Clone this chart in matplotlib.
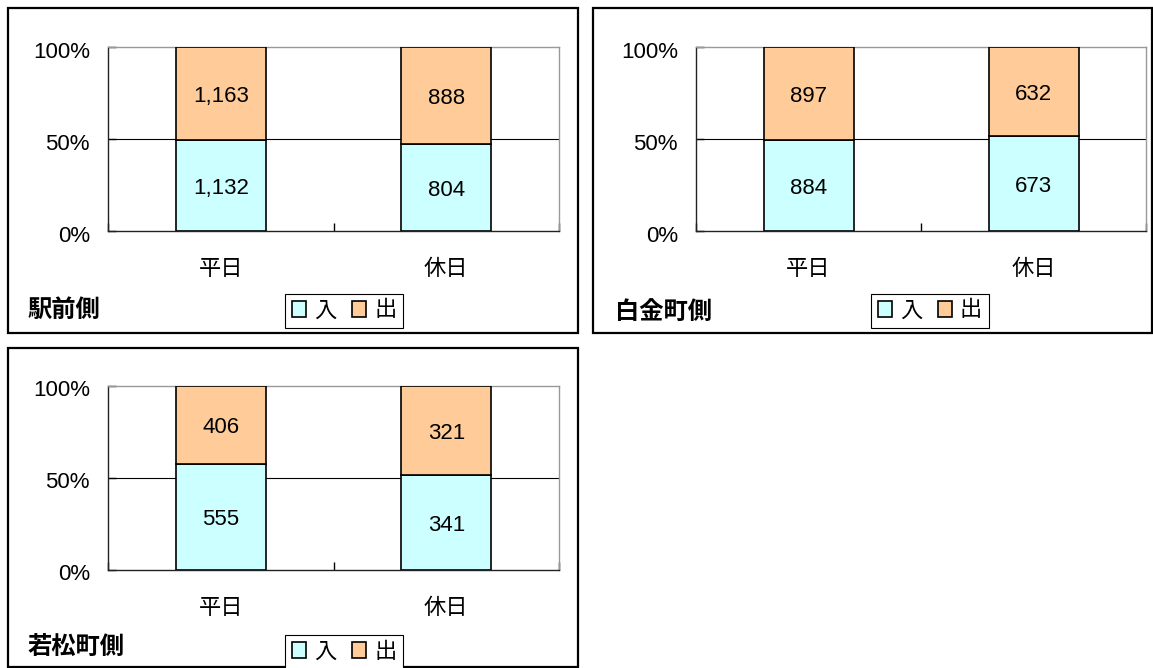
import numpy as np
import matplotlib.pyplot as plt
import matplotlib.transforms as mtransforms
from matplotlib.patches import Rectangle, Patch

plt.rcParams['font.family'] = ['Liberation Sans', 'Noto Sans CJK JP', 'DejaVu Sans']

# データ
categories = ['平日', '休日']
series_names = ['入', '出']
colors = ['#CCFFFF', '#FFCC99']

panel_titles = ['駅前側', '白金町側', '若松町側']
in_counts = [[1132, 804], [884, 673], [555, 341]]
out_counts = [[1163, 888], [897, 632], [406, 321]]

W, H = 1153, 668
fig = plt.figure(figsize=(W / 100, H / 100), dpi=100)

# pixel layout: panel box, plot area, title pos, legend center
layout = [
    dict(box=(8, 8, 578, 333), plot=(108, 47, 559, 231), title=(28, 310), legend=(344, 311)),
    dict(box=(593, 8, 1152, 333), plot=(696, 47, 1146, 231), title=(615, 312), legend=(930, 311)),
    dict(box=(8, 348, 578, 667), plot=(108, 386, 559, 570), title=(28, 648), legend=(344, 652)),
]


def fig_rect(x0, y0, x1, y1):
    return (x0 / W, 1 - y1 / H, (x1 - x0) / W, (y1 - y0) / H)


shift_down = mtransforms.ScaledTranslation(0, -2.5 / 100, fig.dpi_scale_trans)

for i in range(3):
    lay = layout[i]
    bx = fig_rect(*lay['box'])
    fig.patches.append(Rectangle((bx[0], bx[1]), bx[2], bx[3], transform=fig.transFigure,
                                 fill=False, edgecolor='black', linewidth=1.6, zorder=0))

    ax = fig.add_axes(fig_rect(*lay['plot']))
    inc = np.array(in_counts[i], dtype=float)
    outc = np.array(out_counts[i], dtype=float)
    total = inc + outc
    in_share = inc / total
    out_share = outc / total
    x = np.arange(len(categories))

    b1 = ax.bar(x, in_share, width=0.4, color=colors[0], edgecolor='black', linewidth=1.2, zorder=3)
    b2 = ax.bar(x, out_share, width=0.4, bottom=in_share, color=colors[1], edgecolor='black',
                linewidth=1.2, zorder=3)
    anns = ax.bar_label(b1, labels=[f'{int(v):,}' for v in inc], label_type='center', fontsize=16)
    anns += ax.bar_label(b2, labels=[f'{int(v):,}' for v in outc], label_type='center', fontsize=16)
    for a in anns:
        a.xyann = (0, -2)

    ax.axhline(0.5, color='black', linewidth=0.8, zorder=1)
    ax.set_xlim(-0.5, 1.5)
    ax.set_ylim(0, 1)
    ax.set_yticks([0, 0.5, 1])
    ax.set_yticklabels(['0%', '50%', '100%'])
    ax.set_xticks([-0.5, 0.5, 1.5])
    ax.set_xticklabels([])
    ax.set_xticks(x, minor=True)
    ax.set_xticklabels(categories, minor=True)
    ax.tick_params(axis='y', direction='in', length=6, width=1.0, pad=13, labelsize=16)
    ax.tick_params(axis='x', which='major', direction='in', length=6, width=1.0)
    ax.tick_params(axis='x', which='minor', length=0, pad=20, labelsize=16)
    for lbl in ax.get_yticklabels():
        lbl.set_transform(lbl.get_transform() + shift_down)

    ax.spines['left'].set_color('#222222')
    ax.spines['bottom'].set_color('#222222')
    ax.spines['top'].set_color('#999999')
    ax.spines['right'].set_color('#999999')
    for s in ax.spines.values():
        s.set_linewidth(1.0)

    tx, ty = lay['title']
    fig.text(tx / W, 1 - ty / H, panel_titles[i], fontsize=17.5, fontweight='bold',
             ha='left', va='center')

    lx, ly = lay['legend']
    handles = [Patch(facecolor=colors[k], edgecolor='black', linewidth=1.2) for k in range(2)]
    leg = fig.legend(handles, series_names, loc='center', bbox_to_anchor=(lx / W, 1 - ly / H),
                     ncol=2, fontsize=16, handlelength=0.65, handleheight=0.75,
                     handletextpad=0.35, columnspacing=0.7, borderpad=0.3,
                     fancybox=False, edgecolor='black', framealpha=1)
    leg.get_frame().set_linewidth(0.8)

fig.savefig('out.png', dpi=100)
